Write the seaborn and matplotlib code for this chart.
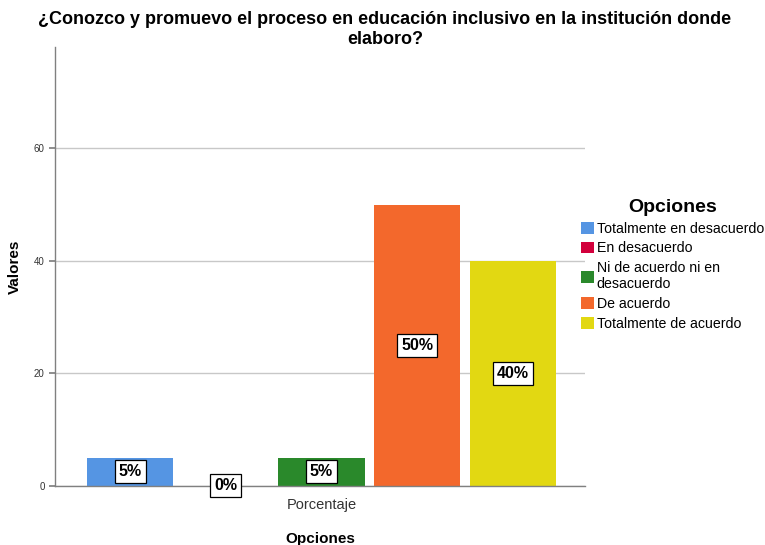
import pandas as pd
import numpy as np
import seaborn as sns
import matplotlib.pyplot as plt
from matplotlib.patches import Patch

# data
categorias = ['Porcentaje']
opciones = ['Totalmente en desacuerdo', 'En desacuerdo', 'Ni de acuerdo ni en\ndesacuerdo',
            'De acuerdo', 'Totalmente de acuerdo']
valores = [5, 0, 5, 50, 40]
etiquetas = ['5%', '0%', '5%', '50%', '40%']
colores = ['#5595e3', '#d2003c', '#2a892b', '#f3682c', '#e2d812']


def main():
    sns.set_theme(style='white')
    plt.rcParams['font.family'] = ['Liberation Sans', 'DejaVu Sans']
    plt.rcParams['text.color'] = 'black'
    plt.rcParams['axes.labelcolor'] = 'black'

    df = pd.DataFrame({'Opciones': categorias * len(opciones),
                       'Opcion': opciones,
                       'Valores': valores})

    fig = plt.figure(figsize=(7.65, 5.45), dpi=100)
    ax = fig.add_axes([0.0719, 0.1083, 0.6928, 0.8055])

    sns.barplot(data=df, x='Opciones', y='Valores', hue='Opcion', hue_order=opciones,
                palette=colores, saturation=1, width=0.8, gap=0.1, legend=False, ax=ax,
                edgecolor='none', linewidth=0)

    ax.set_xlim(-0.4455, 0.4405)
    ax.set_ylim(0, 78)
    ax.set_yticks([0, 20, 40, 60])
    ax.yaxis.grid(True, color='#c8c8c8', linewidth=1)
    ax.set_axisbelow(True)
    for s in ['top', 'right']:
        ax.spines[s].set_visible(False)
    for s in ['left', 'bottom']:
        ax.spines[s].set_color('#808080')
        ax.spines[s].set_linewidth(1)
    ax.tick_params(axis='y', labelsize=7, colors='#333333', length=4, left=True, color='#808080')
    ax.tick_params(axis='x', labelsize=10.5, colors='#333333', length=0, pad=9)
    ax.set_ylabel('Valores', fontsize=11, fontweight='bold', labelpad=16)
    ax.set_xlabel('Opciones', fontsize=11, fontweight='bold', labelpad=14)
    ax.yaxis.set_label_coords(-0.062, 0.5)

    # value labels in boxes at half bar height
    for bar, txt, v in zip(ax.patches, etiquetas, valores):
        cx = bar.get_x() + bar.get_width() / 2
        ax.text(cx, v / 2, txt, ha='center', va='center', fontsize=11.5, fontweight='bold',
                bbox=dict(boxstyle='square,pad=0.25', facecolor='white', edgecolor='black',
                          linewidth=0.9), zorder=5)

    fig.suptitle('¿Conozco y promuevo el proceso en educación inclusivo en la institución donde\nelaboro?',
                 fontsize=13, fontweight='bold', x=0.503, y=0.98, linespacing=1.2)

    handles = [Patch(facecolor=c, edgecolor='none') for c in colores]
    leg = fig.legend(handles, opciones, loc='upper left', bbox_to_anchor=(0.752, 0.645),
                     frameon=False, fontsize=10.2, title='Opciones',
                     handlelength=0.9, handleheight=0.9, handletextpad=0.2,
                     labelspacing=0.4, borderaxespad=0)
    leg.get_title().set_fontweight('bold')
    leg.get_title().set_fontsize(14)

    fig.savefig('out.png', dpi=100)


if __name__ == "__main__":
    main()
